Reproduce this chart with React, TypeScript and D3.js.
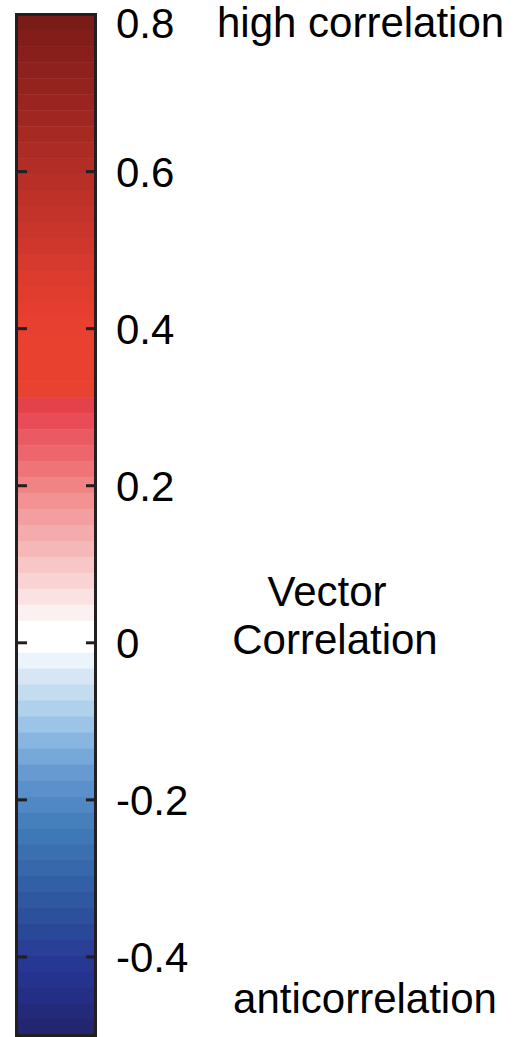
import React from 'react';
import {scaleLinear, range} from 'd3';

// colorbar values and band colours (bottom = -0.5 up to top = 0.8)
const domainMin = -0.5;
const domainMax = 0.8;
const tickValues = [-0.4, -0.2, 0, 0.2, 0.4, 0.6, 0.8];
const tickLabels = ['-0.4', '-0.2', '0', '0.2', '0.4', '0.6', '0.8'];

// 64 colour steps, listed from the top of the bar down
const bandColors = [
  '#7b1b18', '#821d1a', '#881f1b', '#8e211d', '#94231e', '#9a2520', '#a02721', '#a62922',
  '#ac2b24', '#b22d25', '#b82f27', '#be3128', '#c4332a', '#ca352b', '#d0372c', '#d6392d',
  '#dc3b2e', '#e13d2f', '#e53e30', '#e74030', '#e84130', '#e84130', '#e84130', '#e84231',
  '#e4424a', '#e84c56', '#ea5a62', '#ec666c', '#ee7478', '#f08383', '#f29292', '#f39fa1',
  '#f4abad', '#f5b8b8', '#f7c6c6', '#f9d3d4', '#fbe2e2', '#fcf1f1', '#ffffff', '#ffffff',
  '#eaf4fa', '#d6e6f5', '#c3dcf0', '#b0d1eb', '#9cc4e7', '#88b6e0', '#76a8d8', '#669ad0',
  '#5a90cc', '#4f88c4', '#4680bc', '#3f78b6', '#3a70b0', '#3668ab', '#3260a6', '#2f58a0',
  '#2d509c', '#2a4898', '#294096', '#263894', '#25338e', '#242e84', '#232a7a', '#222670'
];

const topLabel = 'high correlation';
const bottomLabel = 'anticorrelation';
const titleLines = ['Vector', 'Correlation'];

const W = 529;
const H = 1037;

const App = () => {
  const barX0 = 16.5;
  const barX1 = 95.5;
  const y = scaleLinear().domain([domainMin, domainMax]).range([1035.5, 14.5]);
  const n = bandColors.length;
  const step = (domainMax - domainMin) / n;
  const font = '"Liberation Sans", Arial, sans-serif';

  return (
    <svg width={W} height={H} style={{position: 'absolute', left: 0, top: 0}}>
      <rect x={0} y={0} width={W} height={H} fill="#ffffff" />
      <g className="bands">
        {range(n).map(i => {
          const hi = domainMax - i * step;
          const lo = hi - step;
          return (
            <rect
              key={i}
              x={barX0}
              width={barX1 - barX0}
              y={y(hi)}
              height={y(lo) - y(hi) + 0.5}
              fill={bandColors[i]}
            />
          );
        })}
      </g>
      <rect x={barX0} y={y(domainMax)} width={barX1 - barX0} height={y(domainMin) - y(domainMax)}
        fill="none" stroke="#231f20" strokeWidth={3} />
      <g className="ticks" stroke="#231f20" strokeWidth={3}>
        {tickValues.filter(v => v < domainMax).map(v => (
          <g key={v}>
            <line x1={18} x2={27} y1={y(v)} y2={y(v)} />
            <line x1={86} x2={94} y1={y(v)} y2={y(v)} />
          </g>
        ))}
      </g>
      <g className="tick-labels" fontFamily={font} fontSize={42} fill="#000">
        {tickValues.map((v, i) => (
          <text key={v} x={116} y={Math.max(y(v), 23)} dy="0.36em">{tickLabels[i]}</text>
        ))}
      </g>
      <g fontFamily={font} fontSize={42} fill="#000">
        <text x={217} y={37}>{topLabel}</text>
        <text x={365} y={1013} textAnchor="middle">{bottomLabel}</text>
        <text x={327} y={606} textAnchor="middle">{titleLines[0]}</text>
        <text x={335} y={654} textAnchor="middle">{titleLines[1]}</text>
      </g>
    </svg>
  );
};

export default App;
